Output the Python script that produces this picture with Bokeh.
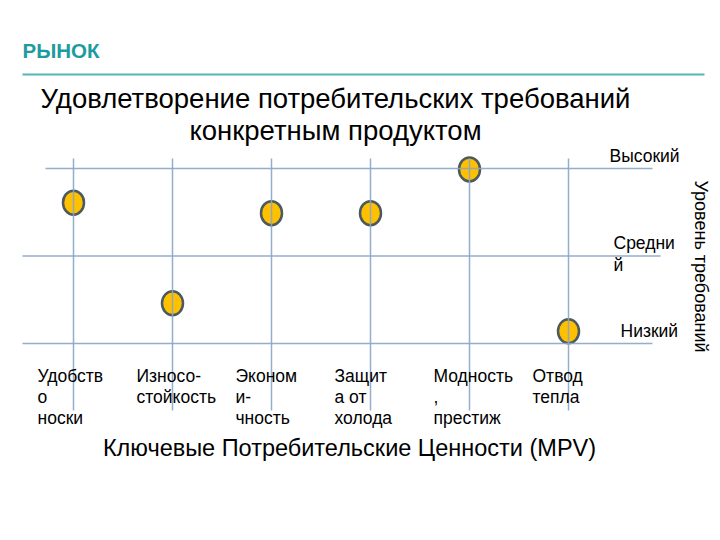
from bokeh.plotting import figure
from bokeh.models import Range1d
from bokeh.embed import file_html
from bokeh.resources import INLINE
from bokeh.core.properties import value
import math

# ---- data ----
tick_labels = ["Удобств\nо\nноски", "Износо-\nстойкость", "Эконом\nи-\nчность",
               "Защит\nа от\nхолода", "Модность\n,\nпрестиж", "Отвод\nтепла"]
values = [2.61, 1.46, 2.49, 2.49, 2.99, 1.14]
level_values = [1, 2, 3]
level_labels = ["Низкий", "Средни\nй", "Высокий"]

# ---- layout helpers ----
W, H = 712, 532
OFF = 0
XU, YU = 99.0, 87.5
x_start = -(73 - OFF) / XU
y_end = 3 + (168 - OFF) / YU


def dx(ix):
    return x_start + (ix - OFF) / XU


def dy(iy):
    return y_end - (iy - OFF) / YU


FONT = value("Liberation Sans")
idx = list(range(len(values)))

p = figure(width=W, height=H, x_range=Range1d(x_start, x_start + W / XU),
           y_range=Range1d(y_end - H / YU, y_end), min_border=0,
           toolbar_location=None, output_backend="svg",
           x_axis_location=None, y_axis_location=None)
p.grid.visible = False
p.outline_line_color = None
p.background_fill_color = "white"

# points
p.ellipse(x=idx, y=values, width=21, height=24, width_units="screen", height_units="screen",
          fill_color="#FFC000", line_color="#4B5A5E", line_width=2.5)

# grid lines drawn over the markers
line_col = "#8AA5C8"
p.segment(x0=idx, y0=dy(410), x1=idx, y1=dy(158), line_color=line_col, line_width=1.5, line_alpha=0.9)
p.segment(x0=[dx(22), dx(22), dx(45)], y0=level_values, x1=[dx(652), dx(660), dx(652)],
          y1=level_values, line_color=line_col, line_width=1.5, line_alpha=0.9)

# header
p.text(x=[dx(22)], y=[dy(50)], text=["РЫНОК"], text_font=FONT, text_font_size="20.5px",
       text_font_style="bold", text_color="#1E9BA1", text_baseline="middle", text_align="left")
p.segment(x0=[dx(22)], y0=[dy(74)], x1=[dx(704)], y1=[dy(74)], line_color="#55B5B9", line_width=2)

# title
p.text(x=[dx(335), dx(335)], y=[dy(98), dy(130)],
       text=["Удовлетворение потребительских требований", "конкретным продуктом"],
       text_font=FONT, text_font_size="27.5px", text_color="black",
       text_baseline="middle", text_align="center")

# category labels
p.text(x=idx, y=[dy(365)] * len(idx), text=tick_labels, x_offset=-36,
       text_font=FONT, text_font_size="17.5px", text_color="black",
       text_baseline="top", text_align="left", text_line_height=1.07)

# level labels
p.text(x=[dx(620), dx(613), dx(609)], y=level_values, text=level_labels, y_offset=-23,
       text_font=FONT, text_font_size="17.5px", text_color="black",
       text_baseline="top", text_align="left", text_line_height=1.1)

# right axis title
p.text(x=[dx(700)], y=[dy(266)], text=["Уровень требований"], angle=-math.pi / 2,
       text_font=FONT, text_font_size="18px", text_color="black",
       text_baseline="middle", text_align="center")

# bottom axis title
p.text(x=[dx(349)], y=[dy(447)], text=["Ключевые Потребительские Ценности (MPV)"],
       text_font=FONT, text_font_size="23.5px", text_color="black",
       text_baseline="middle", text_align="center")

open("out.html", "w").write(file_html(p, INLINE))
